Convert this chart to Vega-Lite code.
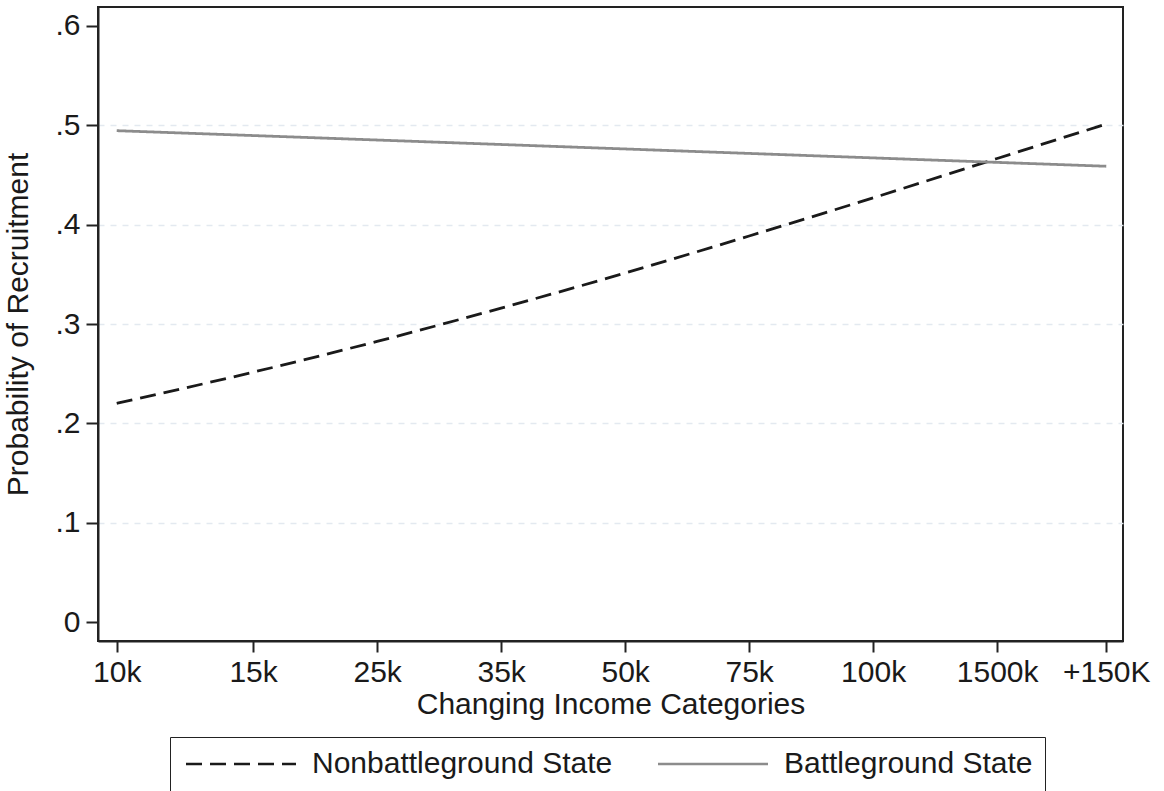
{
  "$schema": "https://vega.github.io/schema/vega-lite/v6.json",
  "width": 1025,
  "height": 634,
  "autosize": {"type": "none"},
  "padding": {"left": 98, "top": 7, "right": 41, "bottom": 150},
  "background": "white",
  "config": {
    "font": "Liberation Sans",
    "view": {"stroke": "#222222", "strokeWidth": 2},
    "axis": {
      "labelFont": "Liberation Sans",
      "titleFont": "Liberation Sans",
      "labelFontSize": 30,
      "titleFontSize": 30,
      "titleFontWeight": "normal",
      "labelColor": "#1a1a1a",
      "titleColor": "#1a1a1a",
      "domainColor": "#222222",
      "domainWidth": 2,
      "tickColor": "#222222",
      "tickWidth": 2
    },
    "legend": {
      "labelFont": "Liberation Sans",
      "labelFontSize": 30,
      "labelColor": "#1a1a1a"
    }
  },
  "data": {
    "values": [
      {"income": 1, "label": "10k", "state": "Nonbattleground State", "prob": 0.2202},
      {"income": 2.1, "label": "15k", "state": "Nonbattleground State", "prob": 0.2515},
      {"income": 3.1, "label": "25k", "state": "Nonbattleground State", "prob": 0.2825},
      {"income": 4.1, "label": "35k", "state": "Nonbattleground State", "prob": 0.3160},
      {"income": 5.1, "label": "50k", "state": "Nonbattleground State", "prob": 0.3513},
      {"income": 6.1, "label": "75k", "state": "Nonbattleground State", "prob": 0.3886},
      {"income": 7.1, "label": "100k", "state": "Nonbattleground State", "prob": 0.4270},
      {"income": 8.1, "label": "1500k", "state": "Nonbattleground State", "prob": 0.4666},
      {"income": 8.98, "label": "+150K", "state": "Nonbattleground State", "prob": 0.5013},
      {"income": 1, "label": "10k", "state": "Battleground State", "prob": 0.4946},
      {"income": 2.1, "label": "15k", "state": "Battleground State", "prob": 0.4897},
      {"income": 3.1, "label": "25k", "state": "Battleground State", "prob": 0.4852},
      {"income": 4.1, "label": "35k", "state": "Battleground State", "prob": 0.4807},
      {"income": 5.1, "label": "50k", "state": "Battleground State", "prob": 0.4762},
      {"income": 6.1, "label": "75k", "state": "Battleground State", "prob": 0.4717},
      {"income": 7.1, "label": "100k", "state": "Battleground State", "prob": 0.4672},
      {"income": 8.1, "label": "1500k", "state": "Battleground State", "prob": 0.4627},
      {"income": 8.98, "label": "+150K", "state": "Battleground State", "prob": 0.4588}
    ]
  },
  "mark": {"type": "line", "strokeWidth": 2.8, "interpolate": "monotone"},
  "encoding": {
    "x": {
      "field": "income",
      "type": "quantitative",
      "scale": {"domain": [0.849, 9.115], "nice": false, "zero": false},
      "axis": {
        "title": "Changing Income Categories",
        "values": [1, 2.1, 3.1, 4.1, 5.1, 6.1, 7.1, 8.1, 8.98],
        "labelExpr": "datum.value == 1 ? '10k' : datum.value == 2.1 ? '15k' : datum.value == 3.1 ? '25k' : datum.value == 4.1 ? '35k' : datum.value == 5.1 ? '50k' : datum.value == 6.1 ? '75k' : datum.value == 7.1 ? '100k' : datum.value == 8.1 ? '1500k' : '+150K'",
        "grid": false,
        "tickSize": 11,
        "labelPadding": 5,
        "titlePadding": 2,
        "labelFlush": false,
        "labelOverlap": false
      }
    },
    "y": {
      "field": "prob",
      "type": "quantitative",
      "scale": {"domain": [-0.0191, 0.6191], "nice": false, "zero": false},
      "axis": {
        "title": "Probability of Recruitment",
        "values": [0, 0.1, 0.2, 0.3, 0.4, 0.5, 0.6],
        "labelExpr": "datum.value == 0 ? '0' : replace(format(datum.value, '.1f'), '0.', '.')",
        "tickSize": 12,
        "labelPadding": 6,
        "titlePadding": 21,
        "labelFlush": false,
        "labelOverlap": false,
        "grid": true,
        "gridColor": "#e3e9f0",
        "gridDash": [6, 6],
        "gridWidth": 1.5,
        "gridOpacity": {"condition": {"test": "datum.value < 0.05 || datum.value > 0.55", "value": 0}, "value": 1}
      }
    },
    "color": {
      "field": "state",
      "type": "nominal",
      "sort": ["Nonbattleground State", "Battleground State"],
      "scale": {"domain": ["Nonbattleground State", "Battleground State"], "range": ["#1a1a1a", "#8c8c8c"]},
      "legend": {
        "title": null,
        "orient": "none",
        "legendX": 72,
        "legendY": 730,
        "direction": "horizontal",
        "symbolType": "M-1,0H9",
        "symbolSize": 484,
        "symbolStrokeWidth": 2.5,
        "labelOffset": 100,
        "columnPadding": 40,
        "padding": 12,
        "strokeColor": "#222222",
        "labelLimit": 400
      }
    },
    "strokeDash": {
      "field": "state",
      "type": "nominal",
      "sort": ["Nonbattleground State", "Battleground State"],
      "scale": {"domain": ["Nonbattleground State", "Battleground State"], "range": [[16, 8], [1, 0]]}
    }
  }
}
